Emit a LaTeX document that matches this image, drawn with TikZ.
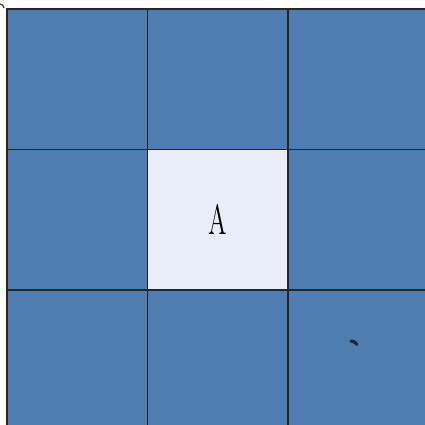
\documentclass[tikz,border=0pt]{standalone}
\usepackage{xcolor}
\definecolor{cellblue}{RGB}{79, 125, 178}
\definecolor{celllight}{RGB}{232, 237, 247}
\usepackage{tikz}
\usetikzlibrary{positioning}

\tikzset{
  cell/.style={draw=black!85, line width=0.35pt, fill=cellblue, minimum size=1.405cm, inner sep=0pt, outer sep=0pt},
  midcell/.style={cell, fill=celllight, font=\fontsize{12}{13}\selectfont}
}

\begin{document}
\begin{tikzpicture}[x=0.01cm, y=-0.01cm]
  % Frame
  \useasboundingbox (0,0) rectangle (425,425);
  \clip (0,0) rectangle (425,425);
  \fill[white] (0,0) rectangle (425,425);

  % Grid of cells
  \foreach \i in {0,1,2}
    \foreach \j in {0,1,2}
      \node[cell] (c\i\j) at ({77.25+140.5*\i}, {79.25+140.5*\j}) {};

  % Centre cell
  \node[midcell] (cA) at (c11) {\scalebox{0.6}[1]{A}};

  % Stray marks
  \draw[line width=0.9pt, black!85, line cap=round] (351,341) .. controls (354,341.5) .. (357,344.5);
  \draw[line width=0.4pt, black!70] (0,4) arc[start angle=-90, end angle=0, radius=4];
\end{tikzpicture}
\end{document}
